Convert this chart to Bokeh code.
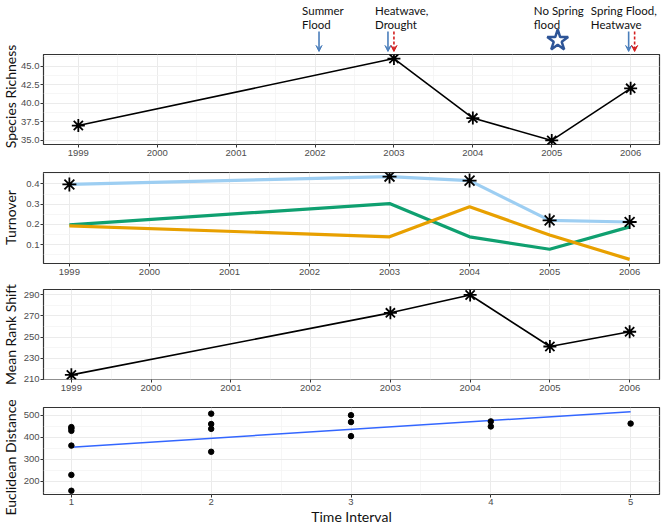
import math
from bokeh.plotting import figure
from bokeh.layouts import column, row
from bokeh.models import Range1d, FixedTicker, PrintfTickFormatter, Arrow, VeeHead, Label
from bokeh.embed import file_html
from bokeh.resources import INLINE
from bokeh.core.properties import value

# ---------------- data ----------------
years = [1999, 2003, 2004, 2005, 2006]
richness = [37, 46, 38, 35, 42]
turn_total = [0.397, 0.436, 0.416, 0.220, 0.212]
turn_appear = [0.198, 0.303, 0.139, 0.078, 0.188]
turn_disappear = [0.193, 0.139, 0.287, 0.148, 0.028]
rank_shift = [214, 273, 290, 241, 255]
interval = [1, 1, 1, 1, 1, 1, 2, 2, 2, 2, 3, 3, 3, 4, 4, 5]
euclid = [446, 440, 429, 362, 229, 157, 507, 460, 438, 334, 500, 469, 405, 472, 449, 462]
fit_x = [1, 5]
fit_y = [355, 516]
year_ticks = [1999, 2000, 2001, 2002, 2003, 2004, 2005, 2006]
year_minor = [1999.5, 2000.5, 2001.5, 2002.5, 2003.5, 2004.5, 2005.5]
interval_ticks = [1, 2, 3, 4, 5]
interval_minor = [1.5, 2.5, 3.5, 4.5]
rich_ticks = [35.0, 37.5, 40.0, 42.5, 45.0]
rich_minor = [36.25, 38.75, 41.25, 43.75, 46.25]
turn_ticks = [0.1, 0.2, 0.3, 0.4]
turn_minor = [0.05, 0.15, 0.25, 0.35, 0.45]
rank_ticks = [210, 230, 250, 270, 290]
rank_minor = [220, 240, 260, 280]
euc_ticks = [200, 300, 400, 500]
euc_minor = [150, 250, 350, 450]
y_titles = ["Species Richness", "Turnover", "Mean Rank Shift", "Euclidean Distance"]
event_labels = [["Summer", "Flood"], ["Heatwave,", "Drought"], ["No Spring", "flood"], ["Spring Flood,", "Heatwave"]]
event_years = [2002, 2003, 2005, 2006]

# ---------------- layout constants (page pixels, page origin at 0,0) ----------------
TW = 18            # width of the y-title strip
BL = 22            # left border of panels
BR = 8
W = 649            # width of the panels
FL = TW + BL       # frame left
FR = TW + W - BR   # frame right

TICK_FONT = "Liberation Sans"
LAB_FONT = "Lato"

H0, H1, H2, H3, H4 = 54, 112, 117, 118, 126
TOTAL = H0 + H1 + H2 + H3 + H4


def px_range(v0, p0, v1, p1, left=FL, right=FR):
    s = (p1 - p0) / (v1 - v0)
    return (v0 - (p0 - left) / s, v1 + (right - p1) / s)


def panel(height, top, bottom, xr, yr, xt, xm, yt, ym, fmt, xlabel=None):
    p = figure(width=W, height=height, output_backend="svg", toolbar_location=None,
               x_range=Range1d(*xr), y_range=Range1d(*yr),
               min_border_left=BL, min_border_right=BR,
               min_border_top=top, min_border_bottom=bottom)
    p.outline_line_color = "#333333"
    p.outline_line_width = 1.2
    p.background_fill_color = "white"
    p.border_fill_color = "white"
    p.xaxis.ticker = FixedTicker(ticks=xt, minor_ticks=xm)
    p.yaxis.ticker = FixedTicker(ticks=yt, minor_ticks=ym)
    if fmt:
        p.yaxis.formatter = PrintfTickFormatter(format=fmt)
    for g in (p.xgrid, p.ygrid):
        g.grid_line_color = "#EBEBEB"
        g.grid_line_width = 1
        g.minor_grid_line_color = "#F4F4F4"
        g.minor_grid_line_width = 0.8
    for ax in (p.xaxis, p.yaxis):
        ax.axis_line_color = None
        ax.major_tick_line_color = "#333333"
        ax.major_tick_out = 3
        ax.major_tick_in = 0
        ax.minor_tick_out = 0
        ax.minor_tick_in = 0
        ax.major_label_text_font = TICK_FONT
        ax.major_label_text_font_size = "9.5px"
        ax.major_label_text_color = "#4D4D4D"
        ax.major_label_standoff = 2
    p.yaxis.major_label_standoff = 1
    if xlabel:
        p.xaxis.axis_label = xlabel
        p.xaxis.axis_label_text_font = LAB_FONT
        p.xaxis.axis_label_text_font_style = "normal"
        p.xaxis.axis_label_text_color = "#111111"
        p.xaxis.axis_label_text_font_size = "14px"
        p.xaxis.axis_label_standoff = 0
        p.xaxis.major_label_standoff = 1
    return p


def bare(width, height, xr, yr, bl=0, br=0):
    f = figure(width=width, height=height, output_backend="svg", toolbar_location=None,
               x_range=Range1d(*xr), y_range=Range1d(*yr),
               min_border_left=bl, min_border_right=br, min_border_top=0, min_border_bottom=0,
               x_axis_location=None, y_axis_location=None)
    f.outline_line_color = None
    f.xgrid.visible = False
    f.ygrid.visible = False
    f.background_fill_color = "white"
    f.border_fill_color = "white"
    return f


# ---------------- annotation strip (page-pixel coords) ----------------
strip = bare(W, H0, (FL, FR), (H0, 0), bl=BL, br=BR)
s1 = (630 - 75) / 7.0


def ypx(y):
    return 75 + (y - 1999) * s1


text_left = [ypx(event_years[0]) - 13, ypx(event_years[1]) - 19, ypx(event_years[2]) - 18, ypx(event_years[3]) - 40]
for tx, lab in zip(text_left, event_labels):
    for k, line in enumerate(lab):
        strip.add_layout(Label(x=tx, y=3 + 14.5 * k, text=line, text_font=LAB_FONT,
                               text_font_size="11.5px", text_baseline="top", text_align="left",
                               text_color="#111111"))

blue_x = [ypx(event_years[0]) + 4, ypx(event_years[1]) - 6, ypx(event_years[3]) - 2]
red_x = [ypx(event_years[1]), ypx(event_years[3]) + 4]
for bx in blue_x:
    strip.add_layout(Arrow(x_start=bx, y_start=31, x_end=bx, y_end=51,
                           line_color="#4A7EBB", line_width=1.6,
                           end=VeeHead(size=6, line_color="#4A7EBB", fill_color="#4A7EBB", line_width=1)))
for rx in red_x:
    strip.add_layout(Arrow(x_start=rx, y_start=31, x_end=rx, y_end=51,
                           line_color="#D42020", line_width=1.6, line_dash="3 2",
                           end=VeeHead(size=6, line_color="#D42020", fill_color="#D42020", line_width=1)))
strip.scatter(x=[ypx(event_years[2]) + 6], y=[40], marker="star", size=22,
              fill_color="white", line_color="#2E5597", line_width=2.5)

# ---------------- y-title strip (page-pixel coords) ----------------
titles = bare(TW, TOTAL, (0, TW), (TOTAL, 0))
title_y = [H0 + 42, H0 + H1 + 6 + 45, H0 + H1 + H2 + 6 + 45, H0 + H1 + H2 + H3 + 6 + 50]
titles.text(x=[9.5] * 4, y=title_y, text=y_titles, angle=math.pi / 2,
            text_font=value(LAB_FONT), text_font_size="14px", text_align="center",
            text_baseline="middle", text_color="#111111")

# ---------------- panel 1: species richness ----------------
p1 = panel(H1, 0, 22, px_range(1999, 75, 2006, 630), (34.45, 46.55),
           year_ticks, year_minor, rich_ticks, rich_minor, "%.1f")
p1.line(years, richness, line_color="black", line_width=1.6)
p1.scatter(years, richness, marker="asterisk", size=13, line_color="black", line_width=1.8)

# ---------------- panel 2: turnover ----------------
p2 = panel(H2, 6, 20, px_range(1999, 66, 2006, 629), (0.0076, 0.456),
           year_ticks, year_minor, turn_ticks, turn_minor, "%.1f")
p2.line(years, turn_appear, line_color="#0FA070", line_width=3.2)
p2.line(years, turn_disappear, line_color="#E8A000", line_width=3.2)
p2.line(years, turn_total, line_color="#9DCEF2", line_width=3.2)
p2.scatter(years, turn_total, marker="asterisk", size=14, line_color="black", line_width=1.8)

# ---------------- panel 3: mean rank shift ----------------
p3 = panel(H3, 6, 22, px_range(1999, 68, 2006, 629), (209.6, 295.2),
           year_ticks, year_minor, rank_ticks, rank_minor, None)
p3.line(years, rank_shift, line_color="black", line_width=1.6)
p3.scatter(years, rank_shift, marker="asterisk", size=13, line_color="black", line_width=1.8)

# ---------------- panel 4: euclidean distance ----------------
p4 = panel(H4, 6, 30, px_range(1, 68, 5, 630), (140, 535),
           interval_ticks, interval_minor, euc_ticks, euc_minor, None, xlabel="Time Interval")
p4.line(fit_x, fit_y, line_color="#3366FF", line_width=1.5)
p4.scatter(interval, euclid, marker="circle", size=5.5, fill_color="black", line_color="black")

layout = row(titles, column(strip, p1, p2, p3, p4, spacing=0), spacing=0)
open("out.html", "w").write(file_html(layout, INLINE))
